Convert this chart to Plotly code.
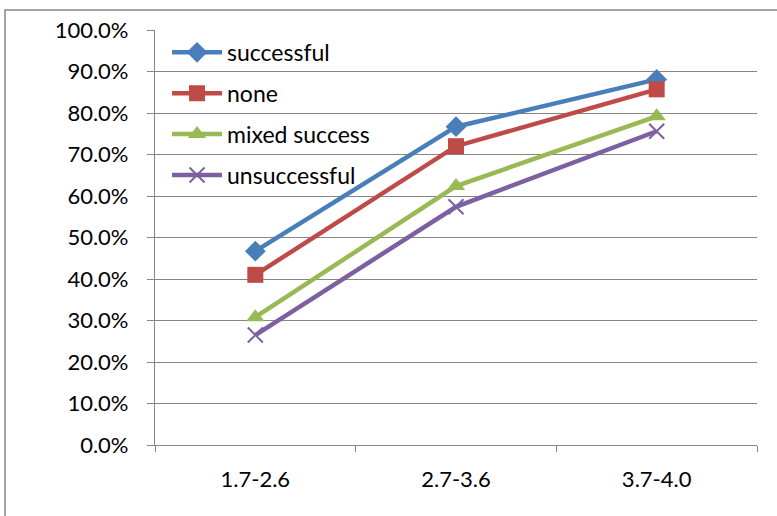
import plotly.graph_objects as go

# GPA bands on the x axis
categories = ["1.7-2.6", "2.7-3.6", "3.7-4.0"]

# Share of students (percent) per outcome group
successful = [46.7, 76.7, 88.1]
none = [41.0, 72.0, 85.7]
mixed_success = [30.8, 62.4, 79.2]
unsuccessful = [26.5, 57.4, 75.6]

series = [
    ("successful", successful, "#4A7EBB", "diamond", 16),
    ("none", none, "#BE4B48", "square", 16),
    ("mixed success", mixed_success, "#98B954", "triangle-up", 16),
    ("unsuccessful", unsuccessful, "#7D60A0", "x-thin-open", 15),
]

font_family = "Lato, 'Open Sans', sans-serif"
grid = "#868686"

fig = go.Figure()
for i, (name, vals, color, symbol, size) in enumerate(series):
    marker = dict(symbol=symbol, size=size, color=color)
    if symbol.endswith("open"):
        marker["line"] = dict(color=color, width=2)
    fig.add_trace(go.Scatter(
        x=categories, y=vals, name=name, mode="lines+markers",
        line=dict(color=color, width=4.5),
        marker=marker,
        legendgroup=f"g{i}",
    ))

W, H = 777, 516
ml, mr, mt, mb = 155, 20, 30, 71
pw, ph = W - ml - mr, H - mt - mb

# Outer chart border (left and top edges visible)
fig.add_shape(type="rect", xref="paper", yref="paper",
              x0=(5 - ml) / pw, x1=(W + 5 - ml) / pw,
              y0=(H - mb - (H + 5)) / ph, y1=(H - mb - 10) / ph,
              line=dict(color=grid, width=1.5), fillcolor="rgba(0,0,0,0)",
              layer="below")

fig.update_layout(
    width=W, height=H,
    margin=dict(l=ml, r=mr, t=mt, b=mb),
    paper_bgcolor="white", plot_bgcolor="white",
    font=dict(family=font_family, size=22, color="black"),
    legend=dict(x=0.02, y=0.998, xanchor="left", yanchor="top",
                bgcolor="rgba(0,0,0,0)", tracegroupgap=8,
                font=dict(size=23), itemwidth=50),
    showlegend=True,
)
fig.update_xaxes(
    type="category", range=[-0.5, 2.5], tickson="boundaries",
    showgrid=False, showline=True, linecolor=grid, linewidth=1.2,
    ticks="outside", ticklen=6, tickcolor=grid,
    ticklabelstandoff=14, tickfont=dict(size=22),
)
fig.update_yaxes(
    range=[0, 100], dtick=10, tickformat=".1f", ticksuffix="%",
    showgrid=True, gridcolor=grid, gridwidth=1,
    showline=True, linecolor=grid, linewidth=1.2,
    ticks="outside", ticklen=7, tickcolor=grid,
    ticklabelstandoff=14, tickfont=dict(size=22), zeroline=False,
)

fig.write_html("out.html")
